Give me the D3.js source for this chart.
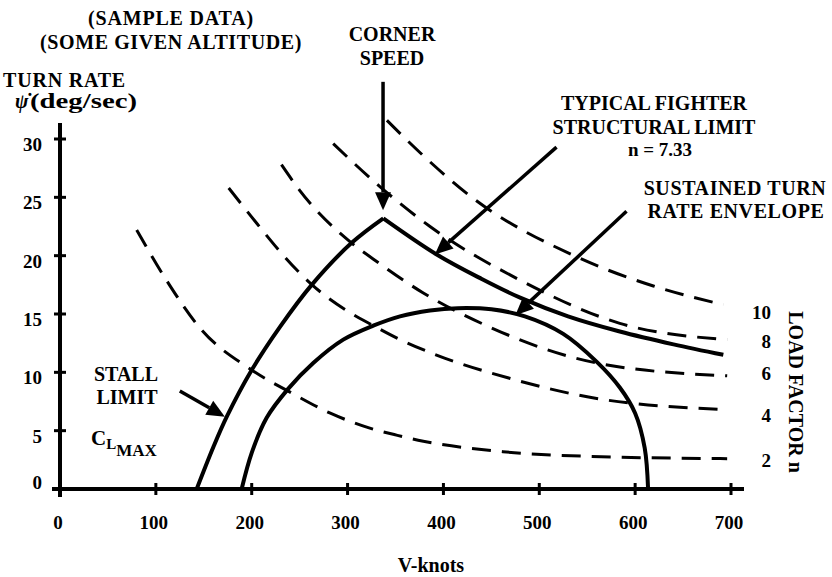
<!DOCTYPE html>
<html><head><meta charset="utf-8">
<script src="https://cdn.jsdelivr.net/npm/d3@7/dist/d3.min.js"></script>
<style>
body{margin:0;background:#fff}
svg text{font-family:"Liberation Serif","Times New Roman",serif;font-weight:bold;fill:#000}
</style>
</head><body>
<svg id="c" width="832" height="577"></svg>
<script>
// ---- data ----
const xTicks = [0, 100, 200, 300, 400, 500, 600, 700];
const yTicks = [0, 5, 10, 15, 20, 25, 30];
const loadFactorLabels = ["2", "4", "6", "8", "10"];
// constant load-factor curves: [V knots, turn rate deg/s]
const n2  = [[80,22.2],[111,17.9],[146,13.8],[200,10.2],[240,8.3],[282,6.5],[320,5.3],[352,4.6],[379,4.1],[462,3.2],[550,2.8],[696,2.6]];
const n4  = [[176,25.8],[205,22.8],[229,20.4],[263,17.5],[299,15.3],[327,14.0],[355,12.8],[386,11.7],[473,9.4],[550,7.9],[696,6.8]];
const n6  = [[231,27.8],[250,25.6],[304,21.1],[327,19.7],[379,16.8],[445,14.0],[560,10.8],[696,9.7]];
const n8  = [[285,29.6],[334,25.9],[386,22.5],[480,17.9],[584,14.2],[696,12.8]];
const n10 = [[341,31.6],[376,28.8],[428,25.1],[539,19.9],[619,17.4],[692,15.8]];
// stall limit (CLmax) and structural limit n = 7.33
const stallLimit = [[142.6,0],[160,3.6],[174,6.2],[200,10.2],[229.5,13.9],[262.6,17.5],[304.3,21.1],[337.3,23.2]];
const structuralLimit = [[337.3,23.2],[393,20.1],[440,18.0],[480,16.4],[530,14.8],[584,13.5],[640,12.4],[692,11.5]];
// sustained turn rate envelope
const sustained = [[189.5,0],[200,3.1],[215.6,6.1],[238.2,8.6],[264.2,10.8],[295.5,12.8],[326.8,14.0],[354.7,14.8],[386,15.3],[415,15.5],[450,15.4],[485,14.8],[525,13.3],[560,10.9],[584,8.7],[600,6.5],[610,3.5],[613.5,0]];
// annotation arrows: [from, to] in data units
const arrowCorner = [[337,34.9],[337,23.9]];
const arrowStructural = [[518,29.3],[391,20.1]];
const arrowSustained = [[591,23.8],[475,14.9]];
const arrowStall = [[125,8.4],[172,6.2]];

// ---- drawing ----
const svg = d3.select("#c");
const x = d3.scaleLinear().domain([0,700]).range([60,731]);
const y = d3.scaleLinear().domain([0,30]).range([489,139]);
const line = d3.line().x(d=>x(d[0])).y(d=>y(d[1])).curve(d3.curveMonotoneX);
const lineS = d3.line().x(d=>x(d[0])).y(d=>y(d[1])).curve(d3.curveCatmullRom.alpha(0.5));

// axes
svg.append("line").attr("x1",x(0)).attr("x2",x(0)).attr("y1",123).attr("y2",497)
  .attr("stroke","#000").attr("stroke-width",4);
svg.append("line").attr("x1",52).attr("x2",744).attr("y1",y(0)).attr("y2",y(0))
  .attr("stroke","#000").attr("stroke-width",4);
const yAxis = d3.axisLeft(y).tickValues(yTicks).tickSize(0).tickFormat("");
const xAxis = d3.axisBottom(x).tickValues(xTicks).tickSize(0).tickFormat("");
svg.append("g").attr("transform",`translate(${x(0)},0)`).call(yAxis).call(g=>g.select(".domain").remove());
svg.append("g").attr("transform",`translate(0,${y(0)})`).call(xAxis).call(g=>g.select(".domain").remove());
// tick marks
svg.selectAll(".yt").data(yTicks).enter().append("line")
  .attr("x1",x(0)-6).attr("x2",x(0)+6).attr("y1",d=>y(d)).attr("y2",d=>y(d))
  .attr("stroke","#000").attr("stroke-width",3);
svg.selectAll(".xt").data(xTicks).enter().append("line")
  .attr("x1",d=>x(d)).attr("x2",d=>x(d)).attr("y1",y(0)-6).attr("y2",y(0)+6)
  .attr("stroke","#000").attr("stroke-width",3);
svg.selectAll(".ytl").data(yTicks).enter().append("text")
  .attr("x",42).attr("y",d=>y(d)+ (d===0? 0 : 12)).attr("text-anchor","end")
  .attr("font-size",19).text(d=>d);
svg.selectAll(".xtl").data(xTicks).enter().append("text")
  .attr("x",d=>x(d)-2).attr("y",529).attr("text-anchor","middle")
  .attr("font-size",19).text(d=>d);

// dashed load factor curves
const lfCurves = [n2,n4,n6,n8,n10];
const lfNudge = [0,4,-4,0,6];
svg.selectAll(".lf").data(lfCurves).enter().append("path")
  .attr("d",d=>line(d)).attr("fill","none").attr("stroke","#000")
  .attr("stroke-width",3).attr("stroke-dasharray","19,11");
svg.selectAll(".lfl").data(lfCurves).enter().append("text")
  .attr("x",771).attr("y",(d,i)=>y(d[d.length-1][1])+8+lfNudge[i]).attr("text-anchor","end")
  .attr("font-size",19).text((d,i)=>loadFactorLabels[i]);

// solid curves
svg.append("path").attr("d",lineS(stallLimit)).attr("fill","none").attr("stroke","#000").attr("stroke-width",4);
svg.append("path").attr("d",lineS(structuralLimit)).attr("fill","none").attr("stroke","#000").attr("stroke-width",4);
svg.append("path").attr("d",lineS(sustained)).attr("fill","none").attr("stroke","#000").attr("stroke-width",4);

// arrows
function arrow(a){
  const x1=x(a[0][0]), y1=y(a[0][1]), x2=x(a[1][0]), y2=y(a[1][1]);
  const ang=Math.atan2(y2-y1,x2-x1), L=18, W=8;
  const bx=x2-L*Math.cos(ang), by=y2-L*Math.sin(ang);
  svg.append("line").attr("x1",x1).attr("y1",y1).attr("x2",bx).attr("y2",by)
    .attr("stroke","#000").attr("stroke-width",3.5);
  const px=-Math.sin(ang)*W, py=Math.cos(ang)*W;
  svg.append("path").attr("d",`M${x2},${y2}L${bx+px},${by+py}L${bx-px},${by-py}Z`).attr("fill","#000");
}
[arrowCorner,arrowStructural,arrowSustained,arrowStall].forEach(arrow);

// texts
function t(txt,xx,yy,size,anchor){
  return svg.append("text").attr("x",xx).attr("y",yy).attr("font-size",size)
    .attr("text-anchor",anchor||"middle").text(txt);
}
t("(SAMPLE DATA)",171,25,20).attr("letter-spacing",0.8);
t("(SOME GIVEN ALTITUDE)",171,49,20).attr("letter-spacing",0.6);
t("TURN RATE",3,87,20,"start").attr("letter-spacing",0.8);
t("\u03C8\u0307",15,108,20,"start").attr("font-style","italic");
t("(deg/sec)",30,108,20,"start").attr("textLength",107).attr("lengthAdjust","spacingAndGlyphs");
t("CORNER",392,41,20);
t("SPEED",392,65,20);
t("TYPICAL FIGHTER",654,110,20);
t("STRUCTURAL LIMIT",654,134,20);
t("n = 7.33",660,156,19);
t("SUSTAINED TURN",735,195,20).attr("letter-spacing",0.6);
t("RATE ENVELOPE",736,218,20).attr("letter-spacing",0.6);
t("STALL",126,381,20);
t("LIMIT",127,404,20);
const cl = svg.append("text").attr("x",91).attr("y",445).attr("font-size",21);
cl.append("tspan").text("C");
cl.append("tspan").attr("font-size",15).attr("dy",4).text("L");
cl.append("tspan").attr("font-size",17).attr("dy",7).text("MAX");
t("V-knots",431,572,20);
svg.append("text").attr("transform","translate(789,392) rotate(90)")
  .attr("text-anchor","middle").attr("font-size",20).text("LOAD FACTOR n");
</script>
</body></html>
